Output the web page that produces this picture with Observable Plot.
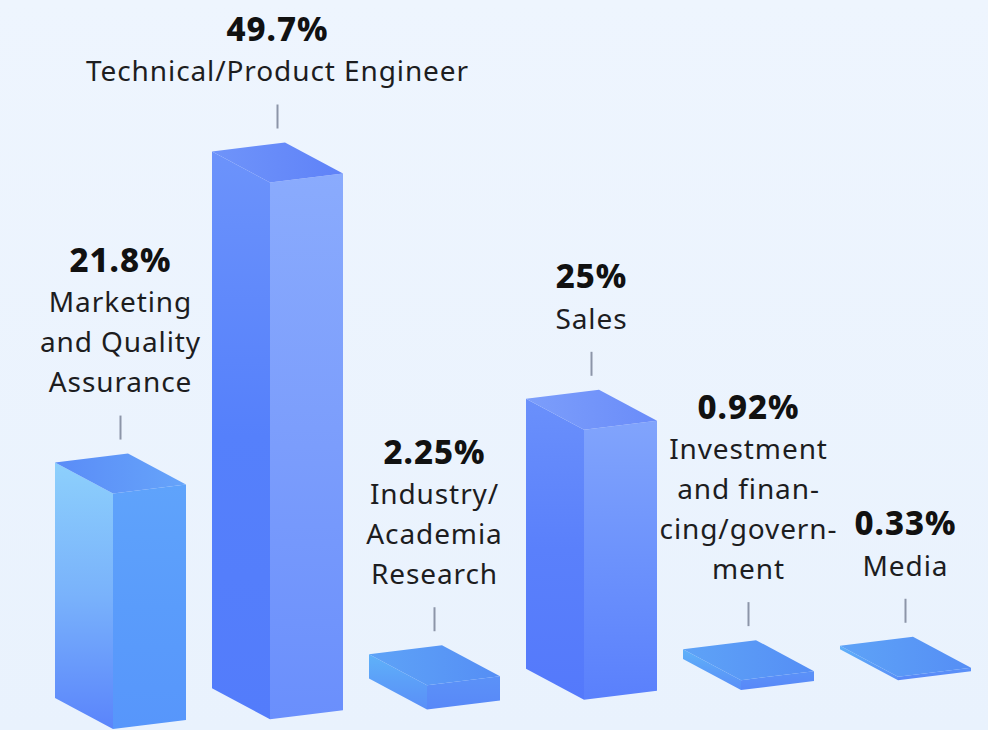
<!DOCTYPE html>
<html><head><meta charset="utf-8">
<script src="https://cdn.jsdelivr.net/npm/d3@7"></script>
<script src="https://cdn.jsdelivr.net/npm/@observablehq/plot@0.6"></script>
<style>
html,body{margin:0;padding:0;}
body{width:988px;height:730px;overflow:hidden;background:linear-gradient(180deg,#eef5fe 0%,#e9f2fd 100%);}
#chart svg{display:block;background:transparent;}
</style></head><body><div id="chart"></div>
<script>
// ---- data ----
const categories = ["Marketing and Quality Assurance", "Technical/Product Engineer", "Industry/Academia Research", "Sales", "Investment and financing/government", "Media"];
const labelLines = [["Marketing", "and Quality", "Assurance"], ["Technical/Product Engineer"], ["Industry/", "Academia", "Research"], ["Sales"], ["Investment", "and finan-", "cing/govern-", "ment"], ["Media"]];
const values = [21.8, 49.7, 2.25, 25, 0.92, 0.33];
const valueLabels = ["21.8%", "49.7%", "2.25%", "25%", "0.92%", "0.33%"];

// ---- styles (separate from data) ----
const palette = [
  {left: ["#8dd0fc", "#79b2fb", "#5a84fb"], right: ["#5fa3fb", "#5a9cfb", "#5796fb"], top: ["#5a8cf7", "#66a4fa"]},
  {left: ["#6c93fb", "#5580fb", "#537cfb"], right: ["#8aabfd", "#7b9dfc", "#6a8ffc"], top: ["#6f94fa", "#5f82f8"]},
  {left: ["#5fb2f9", "#5c9ff8", "#5a8ff8"], right: ["#5b92f8", "#5a8df8", "#5888f8"], top: ["#5ea3f7", "#558ef5"]},
  {left: ["#6a90fb", "#5a80fb", "#5479fb"], right: ["#81a4fc", "#6c92fc", "#5a80fc"], top: ["#7c9efb", "#6a8cf9"]},
  {left: ["#5fb2f9", "#5c9ff8", "#5a8ff8"], right: ["#5b92f8", "#5a8df8", "#5888f8"], top: ["#5ea3f7", "#558ef5"]},
  {left: ["#5fb2f9", "#5c9ff8", "#5a8ff8"], right: ["#5b92f8", "#5a8df8", "#5888f8"], top: ["#5ea3f7", "#558ef5"]}
];
const FACE_L = 58, FACE_L_DY = 31, FACE_R = 73, FACE_R_DY = -9, TILT = 0.062;
const LABEL_FONT = "'Noto Sans', 'Open Sans', sans-serif";

const rows = categories.map((c, i) => ({category: c, value: values[i]}));

function bars3d(index, scales, channels, dimensions, context) {
  const sx = scales.x, sy = scales.y;
  const g = d3.create("svg:g");
  const defs = g.append("defs");
  const x0 = sx(categories[0]);
  const poly = pts => pts.map(p => p.join(",")).join(" ");
  const grad = (id, stops, horizontal) => {
    const lg = defs.append("linearGradient").attr("id", id)
      .attr("x1", 0).attr("y1", 0).attr("x2", horizontal ? 1 : 0).attr("y2", horizontal ? 0 : 1);
    stops.forEach((c, k) => lg.append("stop").attr("offset", k / (stops.length - 1)).attr("stop-color", c));
    return `url(#${id})`;
  };
  categories.forEach((cat, i) => {
    const pal = palette[i];
    const leftX = sx(cat);
    const xf = leftX + FACE_L;
    const tilt = TILT * (leftX - x0);
    const yb = sy(0) - tilt;
    const yt = sy(values[i]) - tilt;
    const lt = [xf - FACE_L, yt - FACE_L_DY], ft = [xf, yt], rt = [xf + FACE_R, yt + FACE_R_DY];
    const bt = [xf - FACE_L + FACE_R, yt - FACE_L_DY + FACE_R_DY];
    const lb = [xf - FACE_L, yb - FACE_L_DY], fb = [xf, yb], rb = [xf + FACE_R, yb + FACE_R_DY];
    g.append("polygon").attr("points", poly([lt, ft, fb, lb])).attr("fill", grad(`gl${i}`, pal.left, false));
    g.append("polygon").attr("points", poly([ft, rt, rb, fb])).attr("fill", grad(`gr${i}`, pal.right, false));
    g.append("polygon").attr("points", poly([lt, bt, rt, ft])).attr("fill", grad(`gt${i}`, pal.top, true));
    // label stack
    const cx = (lt[0] + rt[0]) / 2;
    const peak = bt[1];
    const tickTop = peak - 38, tickBot = peak - 14;
    g.append("line").attr("x1", cx).attr("x2", cx).attr("y1", tickTop).attr("y2", tickBot)
      .attr("stroke", "#8c95a8").attr("stroke-width", 2);
    const lines = labelLines[i];
    const last = tickTop - 33;
    const first = last - (lines.length - 1) * 40;
    lines.forEach((t, k) => {
      g.append("text").attr("x", cx).attr("y", first + k * 40).attr("dy", "0.35em")
        .attr("text-anchor", "middle").attr("font-family", LABEL_FONT)
        .attr("font-size", 28).attr("letter-spacing", 0.9).attr("fill", "#1d1d1f").text(t);
    });
    g.append("text").attr("x", cx).attr("y", first - 42).attr("dy", "0.35em")
      .attr("text-anchor", "middle").attr("font-family", LABEL_FONT)
      .attr("font-size", 33).attr("letter-spacing", 1).attr("font-weight", 800).attr("fill", "#111").text(valueLabels[i]);
  });
  return g.node();
}

const chart = Plot.plot({
  width: 988,
  height: 730,
  margin: 0,
  style: {background: "transparent"},
  x: {type: "band", domain: categories, range: [55, 55 + 157 * 6], padding: 0, axis: null},
  y: {type: "linear", domain: [0, 50], range: [729, 729 - 540], axis: null},
  marks: [
    Plot.tickY(rows, {x: "category", y: "value", strokeOpacity: 0}),
    bars3d
  ]
});
document.getElementById("chart").appendChild(chart);
</script>
</body></html>
